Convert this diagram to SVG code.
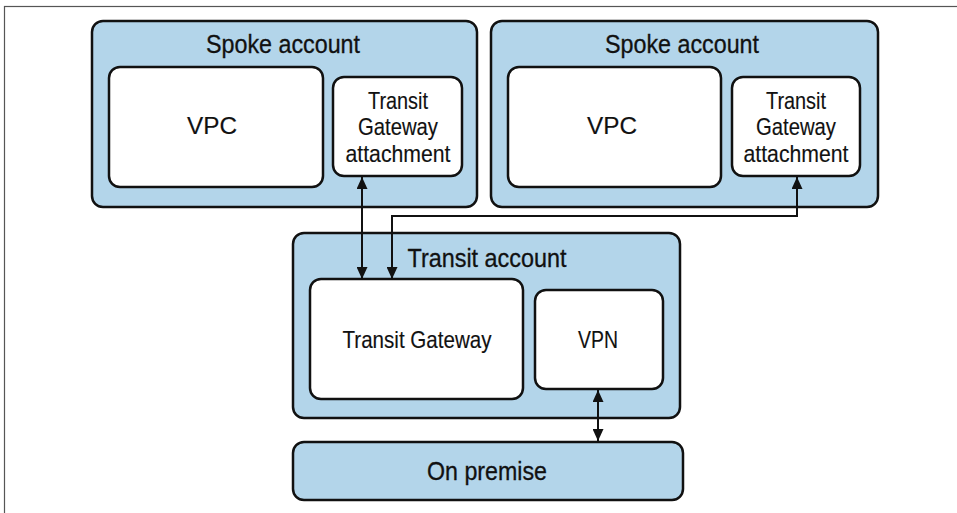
<svg xmlns="http://www.w3.org/2000/svg" width="957" height="513" viewBox="0 0 957 513">
<defs>
<style>
.frame{fill:none;stroke:#555;stroke-width:1.2}
.outer{fill:#b3d5ea;stroke:#111;stroke-width:2.5}
.inner{fill:#fff;stroke:#111;stroke-width:2.5}
.title{font-family:"Liberation Sans",Arial,sans-serif;font-size:26px;fill:#111;stroke:#111;stroke-width:0.3;text-anchor:middle}
.lbl{font-family:"Liberation Sans",Arial,sans-serif;font-size:24px;fill:#111;stroke:#111;stroke-width:0.15;text-anchor:middle}
.conn{fill:none;stroke:#111;stroke-width:2}
</style>
<marker id="ah" viewBox="0 0 12 11" refX="12" refY="5.5" markerWidth="12" markerHeight="11" markerUnits="userSpaceOnUse" orient="auto-start-reverse">
<path d="M0,0 L12,5.5 L0,11 Z" fill="#111"/>
</marker>
</defs>
<rect class="frame" x="4.5" y="6.5" width="1000" height="1000"/>

<g id="spoke1">
<rect class="outer" x="92" y="21" width="385" height="186" rx="11"/>
<text class="title" x="283" y="53" textLength="154" lengthAdjust="spacingAndGlyphs">Spoke account</text>
</g>
<g id="vpc1">
<rect class="inner" x="109" y="67" width="214" height="120" rx="11"/>
<text class="lbl" x="212" y="134" textLength="50" lengthAdjust="spacingAndGlyphs">VPC</text>
</g>
<g id="tga1">
<rect class="inner" x="333" y="77" width="129" height="99" rx="11"/>
<text class="lbl" x="398" y="109" textLength="60" lengthAdjust="spacingAndGlyphs">Transit</text>
<text class="lbl" x="398" y="135" textLength="80" lengthAdjust="spacingAndGlyphs">Gateway</text>
<text class="lbl" x="398" y="162" textLength="105" lengthAdjust="spacingAndGlyphs">attachment</text>
</g>

<g id="spoke2">
<rect class="outer" x="491" y="21" width="387" height="186" rx="11"/>
<text class="title" x="682" y="53" textLength="154" lengthAdjust="spacingAndGlyphs">Spoke account</text>
</g>
<g id="vpc2">
<rect class="inner" x="508" y="67" width="213" height="120" rx="11"/>
<text class="lbl" x="612" y="134" textLength="50" lengthAdjust="spacingAndGlyphs">VPC</text>
</g>
<g id="tga2">
<rect class="inner" x="732" y="77" width="128" height="99" rx="11"/>
<text class="lbl" x="796" y="109" textLength="60" lengthAdjust="spacingAndGlyphs">Transit</text>
<text class="lbl" x="796" y="135" textLength="80" lengthAdjust="spacingAndGlyphs">Gateway</text>
<text class="lbl" x="796" y="162" textLength="105" lengthAdjust="spacingAndGlyphs">attachment</text>
</g>

<g id="transit">
<rect class="outer" x="293" y="233" width="387" height="185" rx="11"/>
<text class="title" x="487" y="267" textLength="159" lengthAdjust="spacingAndGlyphs">Transit account</text>
</g>
<g id="tgw">
<rect class="inner" x="310" y="279" width="213" height="120" rx="11"/>
<text class="lbl" x="417" y="348" textLength="149" lengthAdjust="spacingAndGlyphs">Transit Gateway</text>
</g>
<g id="vpn">
<rect class="inner" x="535" y="290" width="128" height="99" rx="11"/>
<text class="lbl" x="598" y="348" textLength="40" lengthAdjust="spacingAndGlyphs">VPN</text>
</g>

<g id="onprem">
<rect class="outer" x="293" y="442" width="390" height="58" rx="11"/>
<text class="title" x="487" y="480" textLength="120" lengthAdjust="spacingAndGlyphs">On premise</text>
</g>

<g id="connectors">
<path class="conn" d="M362,177 L362,279" marker-start="url(#ah)" marker-end="url(#ah)"/>
<path class="conn" d="M797,177 L797,216 L392,216 L392,279" marker-start="url(#ah)" marker-end="url(#ah)"/>
<path class="conn" d="M598,390 L598,441" marker-start="url(#ah)" marker-end="url(#ah)"/>
</g>
</svg>
